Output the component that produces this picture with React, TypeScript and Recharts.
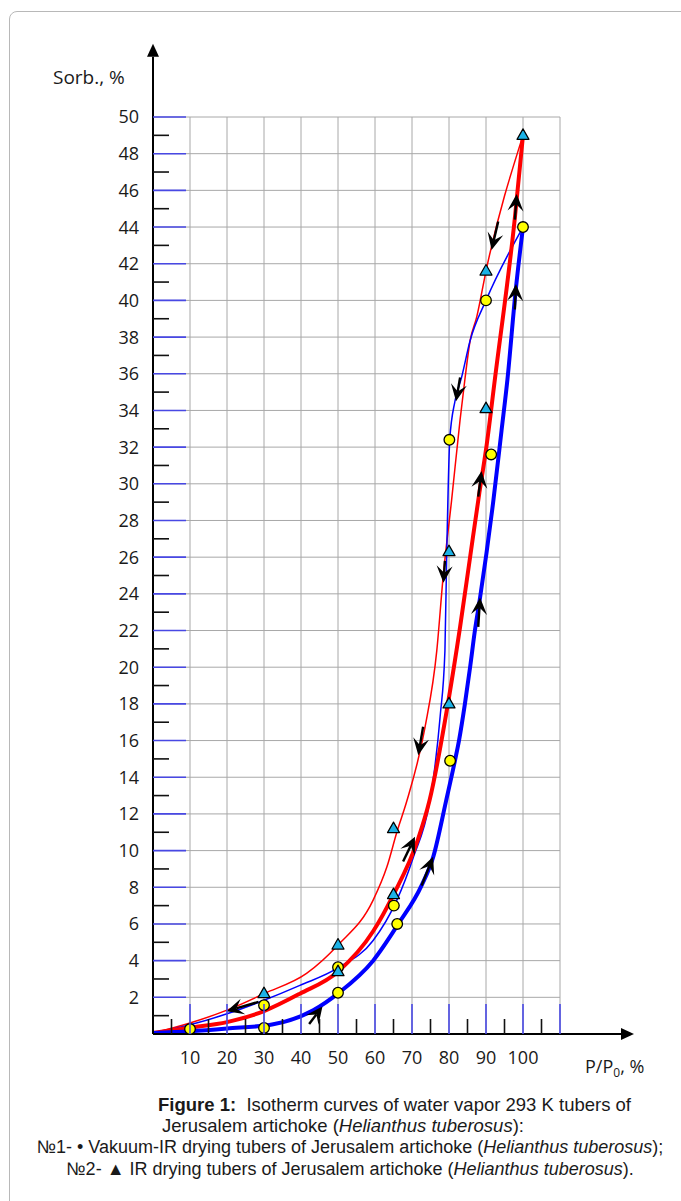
import React from 'react';
import { ComposedChart, Line, Scatter, XAxis, YAxis, CartesianGrid, ReferenceLine } from 'recharts';

const W = 681;
const H = 1201;

// tick values
const xTicks = [5, 10, 15, 20, 25, 30, 35, 40, 45, 50, 55, 60, 65, 70, 75, 80, 85, 90, 95, 100, 105, 110];
const yTicks = [
  1, 2, 3, 4, 5, 6, 7, 8, 9, 10, 11, 12, 13, 14, 15, 16, 17, 18, 19, 20, 21, 22, 23, 24, 25,
  26, 27, 28, 29, 30, 31, 32, 33, 34, 35, 36, 37, 38, 39, 40, 41, 42, 43, 44, 45, 46, 47, 48, 49, 50,
];
const xGrid = [10, 20, 30, 40, 50, 60, 70, 80, 90, 100, 110];
const yGrid = [2, 4, 6, 8, 10, 12, 14, 16, 18, 20, 22, 24, 26, 28, 30, 32, 34, 36, 38, 40, 42, 44, 46, 48, 50];

// №1 Vakuum-IR drying (circles)
const vacuumPoints = [
  { x: 10, y: 0.27 }, { x: 30, y: 1.57 }, { x: 30, y: 0.33 }, { x: 50, y: 3.64 }, { x: 50, y: 2.25 },
  { x: 65.1, y: 7.0 }, { x: 66, y: 6.0 }, { x: 80.3, y: 14.9 }, { x: 80.1, y: 32.4 },
  { x: 90, y: 40.0 }, { x: 91.4, y: 31.6 }, { x: 100, y: 44.0 },
];

// №2 IR drying (triangles)
const irPoints = [
  { x: 30, y: 2.2 }, { x: 50, y: 4.85 }, { x: 50, y: 3.4 }, { x: 65, y: 11.2 }, { x: 65, y: 7.6 },
  { x: 80, y: 18.0 }, { x: 80, y: 26.3 }, { x: 90, y: 34.1 }, { x: 90, y: 41.6 }, { x: 100, y: 49.0 },
];

// curves
const vacuumSorption = [
  { x: 0, y: 0.05 }, { x: 10, y: 0.15 }, { x: 20, y: 0.3 }, { x: 32.5, y: 0.53 }, { x: 43.3, y: 1.29 },
  { x: 50.2, y: 2.24 }, { x: 59.5, y: 4.0 }, { x: 66.3, y: 6.0 }, { x: 72.6, y: 8.1 }, { x: 75.8, y: 9.7 },
  { x: 79.2, y: 12.7 }, { x: 81.6, y: 14.9 }, { x: 82.7, y: 16 }, { x: 84.3, y: 18 }, { x: 85.7, y: 20 },
  { x: 87, y: 22 }, { x: 88.4, y: 23.8 }, { x: 92, y: 29.1 }, { x: 94.2, y: 32.9 }, { x: 95.8, y: 35.7 },
  { x: 98, y: 40.5 }, { x: 100, y: 44 },
];
const irSorption = [
  { x: 0, y: 0.05 }, { x: 10, y: 0.35 }, { x: 20, y: 0.65 }, { x: 30, y: 1.25 }, { x: 39.7, y: 2.2 },
  { x: 50, y: 3.4 }, { x: 59.5, y: 5.6 }, { x: 65, y: 7.6 }, { x: 71.6, y: 10.6 }, { x: 74.7, y: 12.7 },
  { x: 79.7, y: 18 }, { x: 83, y: 22.2 }, { x: 85.7, y: 26 }, { x: 88.2, y: 29.5 }, { x: 90.1, y: 32 },
  { x: 92.4, y: 35.7 }, { x: 97.8, y: 44.5 }, { x: 100, y: 49 },
];
const vacuumDesorption = [
  { x: 0, y: 0.05 }, { x: 10, y: 0.5 }, { x: 20, y: 1.1 }, { x: 30, y: 1.84 }, { x: 39.7, y: 2.65 },
  { x: 50, y: 3.6 }, { x: 59.5, y: 5.1 }, { x: 65.9, y: 7.3 }, { x: 70.3, y: 9.6 }, { x: 74.8, y: 12.7 },
  { x: 76.2, y: 14.6 }, { x: 77.6, y: 17.3 }, { x: 78.9, y: 20.9 }, { x: 79.4, y: 26.4 }, { x: 79.7, y: 29.1 },
  { x: 80.2, y: 32.4 }, { x: 81.6, y: 34.5 }, { x: 83.4, y: 35.8 }, { x: 85.7, y: 37.8 }, { x: 90, y: 40 },
  { x: 100, y: 44 },
];
const irDesorption = [
  { x: 0, y: 0.05 }, { x: 10, y: 0.6 }, { x: 20, y: 1.3 }, { x: 30, y: 2.2 }, { x: 41.5, y: 3.3 },
  { x: 50, y: 4.85 }, { x: 59.5, y: 7.3 }, { x: 63.2, y: 9.1 }, { x: 65.9, y: 11.0 }, { x: 68.6, y: 12.7 },
  { x: 73.5, y: 16.7 }, { x: 76.7, y: 20.9 }, { x: 78.4, y: 24.9 }, { x: 80.7, y: 29.1 }, { x: 83, y: 33.5 },
  { x: 84.3, y: 35.7 }, { x: 85.7, y: 37.8 }, { x: 87.5, y: 39.1 }, { x: 90, y: 41.6 }, { x: 100, y: 49 },
];

// direction arrows on the curves: tail -> head
const curveArrows = [
  { from: { x: 28.5, y: 1.75 }, to: { x: 19.9, y: 1.24 } },
  { from: { x: 42.2, y: 0.55 }, to: { x: 45.8, y: 1.5 } },
  { from: { x: 67.6, y: 9.4 }, to: { x: 70.8, y: 10.75 } },
  { from: { x: 72.6, y: 8.1 }, to: { x: 75.7, y: 9.66 } },
  { from: { x: 73, y: 16.75 }, to: { x: 71.7, y: 15.2 } },
  { from: { x: 87.9, y: 22.2 }, to: { x: 88.4, y: 23.8 } },
  { from: { x: 78.9, y: 25.8 }, to: { x: 78.5, y: 24.6 } },
  { from: { x: 87.9, y: 29.3 }, to: { x: 88.8, y: 30.7 } },
  { from: { x: 83, y: 35.8 }, to: { x: 81.9, y: 34.5 } },
  { from: { x: 97.8, y: 39.5 }, to: { x: 98.1, y: 40.9 } },
  { from: { x: 93.3, y: 44.3 }, to: { x: 91.5, y: 42.75 } },
  { from: { x: 97.8, y: 44.4 }, to: { x: 98.3, y: 45.8 } },
];

const xAxisEnd = 130;
const yAxisEnd = 54;

const tickFont = { fontFamily: '"Open Sans", sans-serif', fontSize: 18, fill: '#1a1a1a' };
const tickBlue = '#4848e4';

const YTick = (props: any) => {
  const { x, y, payload } = props;
  const v = payload.value;
  const even = v % 2 === 0;
  return (
    <g>
      <line x1={x} x2={x + (even ? 33 : 16)} y1={y} y2={y} stroke={even ? tickBlue : '#111'} strokeWidth={1.6} />
      {even && (
        <text x={x - 14} y={y} dy="0.36em" textAnchor="end" {...tickFont}>
          {v}
        </text>
      )}
    </g>
  );
};

const XTick = (props: any) => {
  const { x, y, payload } = props;
  const v = payload.value;
  const major = v % 10 === 0;
  return (
    <g>
      <line x1={x} x2={x} y1={y} y2={y - (major ? 30 : 15)} stroke={major ? tickBlue : '#111'} strokeWidth={1.6} />
      {major && v <= 100 && (
        <text x={x} y={y + 30} textAnchor="middle" {...tickFont}>
          {v}
        </text>
      )}
    </g>
  );
};

const Circle = (props: any) => (
  <circle cx={props.cx} cy={props.cy} r={5.3} fill="#ffff00" stroke="#000" strokeWidth={1.3} />
);

const Triangle = (props: any) => {
  const { cx, cy } = props;
  return (
    <polygon
      points={`${cx},${cy - 6.5} ${cx + 6},${cy + 4} ${cx - 6},${cy + 4}`}
      fill="#1cb2e6"
      stroke="#000"
      strokeWidth={1.2}
      strokeLinejoin="round"
    />
  );
};

const Arrow = (props: any) => {
  const { x1, y1, x2, y2 } = props;
  if (x1 == null || x2 == null) return null;
  const dx = x2 - x1;
  const dy = y2 - y1;
  const len = Math.hypot(dx, dy) || 1;
  const ux = dx / len;
  const uy = dy / len;
  const px = -uy;
  const py = ux;
  const L = 17;
  const half = 8;
  const N = 10;
  const bx = x2 - ux * L;
  const by = y2 - uy * L;
  const nx = x2 - ux * N;
  const ny = y2 - uy * N;
  return (
    <g>
      <line x1={x1} y1={y1} x2={nx} y2={ny} stroke="#000" strokeWidth={2.4} />
      <polygon
        points={`${x2},${y2} ${bx + px * half},${by + py * half} ${nx},${ny} ${bx - px * half},${by - py * half}`}
        fill="#000"
      />
    </g>
  );
};

const AxisArrow = (props: any) => {
  const { x1, y1, x2, y2 } = props;
  if (x1 == null || x2 == null) return null;
  const dx = x2 - x1;
  const dy = y2 - y1;
  const len = Math.hypot(dx, dy) || 1;
  const ux = dx / len;
  const uy = dy / len;
  const px = -uy;
  const py = ux;
  const L = 13;
  const half = 6;
  const bx = x2 - ux * L;
  const by = y2 - uy * L;
  return (
    <g>
      <line x1={x1} y1={y1} x2={bx} y2={by} stroke="#000" strokeWidth={2} />
      <polygon points={`${x2},${y2} ${bx + px * half},${by + py * half} ${bx - px * half},${by - py * half}`} fill="#000" />
    </g>
  );
};

const captionFont = '"Liberation Sans", Arial, sans-serif';

export default function App() {
  return (
    <div style={{ position: 'absolute', left: 0, top: 0, width: W, height: H, overflow: 'hidden', background: '#fff' }}>
      <div
        style={{
          position: 'absolute',
          left: 9,
          top: 11,
          width: 700,
          height: 1230,
          border: '1px solid #b8b8b8',
          borderRadius: 8,
        }}
      />
      <div style={{ position: 'absolute', left: 0, top: 0 }}>
        <ComposedChart width={W} height={H} margin={{ top: 117, right: 121, left: 93, bottom: 137 }}>
          <CartesianGrid stroke="#a8a8a8" strokeWidth={1} horizontalValues={yGrid} verticalValues={xGrid} />
          <XAxis
            type="number"
            dataKey="x"
            domain={[0, 110]}
            ticks={xTicks}
            interval={0}
            height={30}
            axisLine={false}
            tickLine={false}
            tickSize={0}
            tickMargin={0}
            tick={XTick}
          />
          <YAxis
            type="number"
            dataKey="y"
            domain={[0, 50]}
            ticks={yTicks}
            interval={0}
            width={60}
            axisLine={false}
            tickLine={false}
            tickSize={0}
            tickMargin={0}
            tick={YTick}
          />
          <Line data={irDesorption} dataKey="y" type="monotone" stroke="#ff0000" strokeWidth={1.5} dot={false} activeDot={false} isAnimationActive={false} />
          <Line data={vacuumDesorption} dataKey="y" type="monotone" stroke="#0000ff" strokeWidth={1.5} dot={false} activeDot={false} isAnimationActive={false} />
          <Line data={irSorption} dataKey="y" type="monotone" stroke="#ff0000" strokeWidth={4} dot={false} activeDot={false} isAnimationActive={false} />
          <Line data={vacuumSorption} dataKey="y" type="monotone" stroke="#0000ff" strokeWidth={4} dot={false} activeDot={false} isAnimationActive={false} />
          <Scatter data={vacuumPoints} dataKey="y" shape={Circle} isAnimationActive={false} />
          <Scatter data={irPoints} dataKey="y" shape={Triangle} isAnimationActive={false} />
          {curveArrows.map((a, i) => (
            <ReferenceLine key={i} segment={[a.from, a.to]} ifOverflow="visible" shape={Arrow} />
          ))}
          <ReferenceLine segment={[{ x: 0, y: 0 }, { x: 0, y: yAxisEnd }]} ifOverflow="visible" shape={AxisArrow} />
          <ReferenceLine segment={[{ x: 0, y: 0 }, { x: xAxisEnd, y: 0 }]} ifOverflow="visible" shape={AxisArrow} />
        </ComposedChart>
      </div>
      <svg width={W} height={H} style={{ position: 'absolute', left: 0, top: 0, pointerEvents: 'none' }}>
        <text x={53} y={84} fontFamily='"Open Sans", sans-serif' fontSize={19} fill="#1a1a1a">
          Sorb., %
        </text>
        <text x={585} y={1073} fontFamily='"Open Sans", sans-serif' fontSize={18} fill="#1a1a1a">
          P/P
          <tspan fontSize={12} dy={4}>0</tspan>
          <tspan dy={-4}>, %</tspan>
        </text>
        <g fontFamily={captionFont} fill="#1a1a1a">
          <text x={158} y={1111} fontSize={18.5} xmlSpace="preserve">
            <tspan fontWeight="bold">Figure 1:</tspan>
            <tspan>{'  Isotherm curves of water vapor 293 K tubers of'}</tspan>
          </text>
          <text x={162} y={1132} fontSize={18.5}>
            {'Jerusalem artichoke ('}
            <tspan fontStyle="italic">Helianthus tuberosus</tspan>
            {'):'}
          </text>
          <text x={350} y={1153} fontSize={18} textAnchor="middle">
            {'№1- • Vakuum-IR drying tubers of Jerusalem artichoke ('}
            <tspan fontStyle="italic">Helianthus tuberosus</tspan>
            {');'}
          </text>
          <text x={350} y={1175} fontSize={18} textAnchor="middle">
            {'№2- ▲ IR drying tubers of Jerusalem artichoke ('}
            <tspan fontStyle="italic">Helianthus tuberosus</tspan>
            {').'}
          </text>
        </g>
      </svg>
    </div>
  );
}
